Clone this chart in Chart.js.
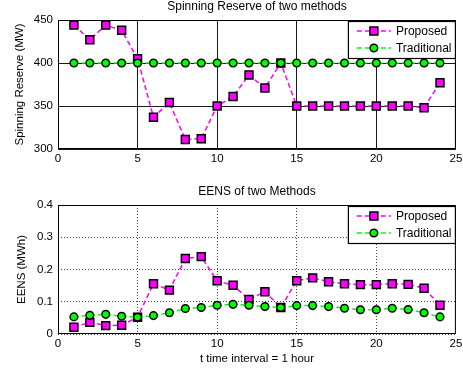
<!DOCTYPE html>
<html><head><meta charset="utf-8">
<script src="https://cdn.jsdelivr.net/npm/chart.js@4/dist/chart.umd.min.js"></script>
<style>
html,body{margin:0;padding:0;background:#fff;}
#wrap{position:relative;width:463px;height:372px;overflow:hidden;background:#fff}
canvas{position:absolute;left:0}
</style></head><body>
<div id="wrap">
<canvas id="reserve" width="463" height="180" style="top:0"></canvas>
<canvas id="eens" width="463" height="192" style="top:180px"></canvas>
</div>
<script>
// Hourly spinning reserve and EENS for the two scheduling methods
const hours = [1,2,3,4,5,6,7,8,9,10,11,12,13,14,15,16,17,18,19,20,21,22,23,24];
const reserveProposed = [444,427,444,438,405,337,354,311,312,350,361,386,371,400,350,350,350,350,350,350,350,350,348,377];
const reserveTraditional = [400,400,400,400,400,400,400,400,400,400,400,400,400,400,400,400,400,400,400,400,400,400,400,400];
const eensProposed = [0.021,0.036,0.026,0.027,0.052,0.156,0.136,0.234,0.240,0.165,0.151,0.107,0.131,0.082,0.165,0.174,0.162,0.156,0.153,0.153,0.156,0.154,0.142,0.089];
const eensTraditional = [0.053,0.058,0.061,0.055,0.052,0.057,0.066,0.079,0.082,0.089,0.092,0.089,0.085,0.082,0.088,0.088,0.085,0.080,0.075,0.075,0.080,0.076,0.066,0.053];
const seriesNames = ['Proposed', 'Traditional'];
const xTicks = [0, 5, 10, 15, 20, 25];

const FONT = 'Liberation Sans, Arial, sans-serif';
const toPoints = vals => hours.map((h, i) => ({x: h, y: vals[i]}));

function makeDatasets(proposed, traditional) {
  return [
    {
      label: seriesNames[0], data: toPoints(proposed), order: 1,
      borderColor: '#ff00ff', borderWidth: 1.5, borderDash: [5, 3],
      pointStyle: 'rect', pointRadius: 5.6, pointHoverRadius: 5.6,
      pointBackgroundColor: '#ff00ff', pointBorderColor: '#000', pointBorderWidth: 1.5,
      tension: 0, fill: false
    },
    {
      label: seriesNames[1], data: toPoints(traditional), order: 0,
      borderColor: '#00ff00', borderWidth: 1.5, borderDash: [5, 3],
      pointStyle: 'circle', pointRadius: 3.8, pointHoverRadius: 3.8,
      pointBackgroundColor: '#00ff00', pointBorderColor: '#000', pointBorderWidth: 1.5,
      tension: 0, fill: false
    }
  ];
}

// Box around the plotting area
const framePlugin = {
  id: 'frame',
  afterDatasetsDraw(chart) {
    const {ctx, chartArea: a} = chart;
    ctx.save();
    ctx.strokeStyle = '#000';
    ctx.lineWidth = 1;
    ctx.setLineDash([]);
    ctx.strokeRect(a.left + 0.5, a.top + 0.5, a.right - a.left - 1, a.bottom - a.top - 1);
    ctx.restore();
  }
};

// Title centred over the plotting area rather than the whole canvas
const areaTitlePlugin = {
  id: 'areaTitle',
  afterDraw(chart, args, opts) {
    const {ctx, chartArea: a} = chart;
    ctx.save();
    ctx.fillStyle = '#000';
    ctx.font = '12px ' + FONT;
    ctx.textAlign = 'center';
    ctx.textBaseline = 'middle';
    ctx.fillText(opts.text, (a.left + a.right) / 2, opts.y);
    ctx.restore();
  }
};

// Boxed legend in the upper right corner of the plot
const boxLegendPlugin = {
  id: 'boxLegend',
  afterDatasetsDraw(chart) {
    const {ctx, chartArea: a} = chart;
    const w = 108, h = 38;
    const left = a.right - w, top = a.top + 1;
    ctx.save();
    ctx.fillStyle = '#fff';
    ctx.fillRect(left, top, w, h);
    ctx.strokeStyle = '#000';
    ctx.lineWidth = 1.2;
    ctx.strokeRect(left + 0.5, top + 0.5, w - 1, h - 1);
    chart.data.datasets.forEach((ds, i) => {
      const y = top + 10 + i * 17;
      ctx.strokeStyle = ds.borderColor;
      ctx.lineWidth = ds.borderWidth;
      ctx.setLineDash(ds.borderDash);
      ctx.beginPath();
      ctx.moveTo(left + 9, y);
      ctx.lineTo(left + 43, y);
      ctx.stroke();
      ctx.setLineDash([]);
      ctx.fillStyle = ds.pointBackgroundColor;
      ctx.strokeStyle = ds.pointBorderColor;
      ctx.lineWidth = ds.pointBorderWidth;
      const mx = left + 26;
      ctx.beginPath();
      if (ds.pointStyle === 'rect') {
        const s = ds.pointRadius * Math.SQRT1_2;
        ctx.rect(mx - s, y - s, 2 * s, 2 * s);
      } else {
        ctx.arc(mx, y, ds.pointRadius, 0, Math.PI * 2);
      }
      ctx.fill();
      ctx.stroke();
      ctx.fillStyle = '#000';
      ctx.font = '12px ' + FONT;
      ctx.textBaseline = 'middle';
      ctx.textAlign = 'left';
      ctx.fillText(ds.label, left + 48, y + 0.5);
    });
    ctx.restore();
  }
};

function makeChart(id, opts) {
  return new Chart(document.getElementById(id), {
    type: 'line',
    data: {datasets: makeDatasets(opts.proposed, opts.traditional)},
    plugins: [framePlugin, boxLegendPlugin, areaTitlePlugin],
    options: {
      responsive: false,
      animation: false,
      events: [],
      layout: {padding: {left: 0, right: 6, top: opts.plotTop, bottom: 0}},
      plugins: {
        legend: {display: false},
        tooltip: {enabled: false},
        title: {display: false},
        areaTitle: {text: opts.title, y: opts.titleY}
      },
      scales: {
        x: {
          type: 'linear', min: 0, max: 25,
          afterBuildTicks: s => { s.ticks = xTicks.map(v => ({value: v})); },
          ticks: {color: '#000', font: {family: FONT, size: 11.5}, padding: 3, maxRotation: 0, autoSkip: false},
          grid: {color: opts.gridColor, lineWidth: 1, drawTicks: false},
          border: {display: false, dash: opts.gridDash},
          title: opts.xTitle ? {
            display: true, text: opts.xTitle, color: '#000',
            font: {family: FONT, size: 11.5}, padding: {top: 2, bottom: 6}
          } : {display: false},
          afterFit: s => { s.height = opts.xHeight; s.paddingRight = 6; s.paddingLeft = 0; }
        },
        y: {
          min: opts.yMin, max: opts.yMax,
          ticks: {stepSize: opts.yStep, color: '#000', font: {family: FONT, size: 11.5}, padding: 5},
          grid: {color: opts.gridColor, lineWidth: 1, drawTicks: false},
          border: {display: false, dash: opts.gridDash},
          title: {
            display: true, text: opts.yTitle, color: '#000',
            font: {family: FONT, size: 11.5}, padding: {top: opts.yTitlePad, bottom: 0}
          },
          afterFit: s => { s.width = 58; s.paddingTop = 0; }
        }
      }
    }
  });
}

makeChart('reserve', {
  proposed: reserveProposed, traditional: reserveTraditional,
  title: 'Spinning Reserve of two methods', titleY: 6.5, plotTop: 20,
  yTitle: 'Spinning Reserve (MW)', yTitlePad: 13,
  yMin: 300, yMax: 450, yStep: 50,
  gridColor: '#1a1a1a', gridDash: [],
  xHeight: 31
});

makeChart('eens', {
  proposed: eensProposed, traditional: eensTraditional,
  title: 'EENS of two Methods', titleY: 11.5, plotTop: 25,
  yTitle: 'EENS (MWh)', yTitlePad: 15,
  yMin: 0, yMax: 0.4, yStep: 0.1,
  gridColor: '#444', gridDash: [1, 2],
  xTitle: 't time interval = 1 hour',
  xHeight: 38
});
</script>
</body></html>
